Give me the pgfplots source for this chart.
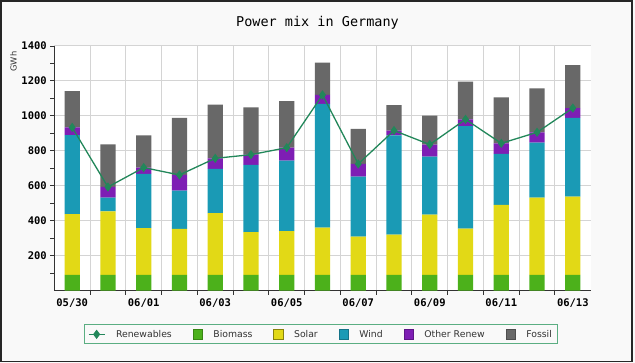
\documentclass[border=0pt]{standalone}
\usepackage{pgfplots}
\pgfplotsset{compat=1.18}
\usepackage{pgfplotstable}
\usepackage{fontspec}
\setmainfont{DejaVu Sans}
\newfontfamily\monofont{DejaVu Sans Mono}
\definecolor{bgcol}{HTML}{F9F9F9}
\definecolor{cbio}{HTML}{4CB11B}
\definecolor{csol}{HTML}{E2D916}
\definecolor{cwind}{HTML}{1A9AB5}
\definecolor{cother}{HTML}{7E1EB4}
\definecolor{cfos}{HTML}{686868}
\definecolor{cren}{HTML}{22875A}
\definecolor{legbox}{HTML}{5BAE82}
\definecolor{gridc}{HTML}{D4D4D4}
\pgfplotsset{
  sqleg/.style={legend image code/.code={\draw[line width=0.8pt,##1] (0pt,-4.6pt) rectangle (9.2pt,4.6pt);}},
  lnleg/.style={legend image code/.code={\draw[mark repeat=2,mark phase=2,##1] plot coordinates {(0pt,0pt) (8pt,0pt) (16pt,0pt)};}},
}
\pgfplotstableread{
x bio sol wind other fos ren
0 90 348 452 44 208 934
1 90 364 78 61 244 593
2 90 268 310 36 185 704
3 90 263 219 90 326 662
4 90 354 252 61 307 757
5 90 245 384 59 271 778
6 90 251 403 74 267 818
7 90 270 708 52 185 1120
8 90 219 343 73 200 725
9 90 230 569 27 145 916
10 90 345 332 69 166 836
11 90 265 587 38 216 980
12 90 400 292 61 263 843
13 90 442 315 59 252 906
14 90 448 450 57 245 1045
}\data
\begin{document}
\begin{tikzpicture}[x=1pt,y=1pt]
\useasboundingbox (0,0) rectangle (635,363);
\fill[bgcol] (0,0) rectangle (635,363);
\draw[line width=1.6pt, black!85] (0.8,362.2) rectangle (631.8,1.4);
\node[font=\monofont\fontsize{13.5}{15}\selectfont, text=black] at (317.5,340.5) {Power mix in Germany};
\node[rotate=90, font=\fontsize{8.3}{9}\selectfont, text=black!80] at (13.5,301.5) {GWh};
\begin{axis}[
  at={(54.3pt,72.4pt)}, anchor=south west,
  scale only axis, width=536.4pt, height=244.6pt,
  xmin=-0.5, xmax=14.5, ymin=0, ymax=1400,
  ybar stacked, bar width=15.3pt,
  axis background/.style={fill=white},
  axis x line*=bottom, axis y line*=left,
  axis line style={-, line width=1.2pt, black!80},
  xtick={0,2,...,14},
  xticklabels={05/30,06/01,06/03,06/05,06/07,06/09,06/11,06/13},
  minor xtick={0.5,1.5,...,13.5},
  major x tick style={draw=none},
  ytick={200,400,...,1400},
  minor ytick={100,300,...,1300},
  xminorgrids=true, ymajorgrids=true,
  grid style={gridc, line width=1pt},
  minor grid style={gridc, line width=1pt},
  tick align=outside, major tick length=4pt, minor tick length=4pt,
  tick style={black!80, line width=0.9pt},
  ticklabel style={font=\monofont\bfseries\fontsize{10.5}{12}\selectfont},
  /pgf/number format/1000 sep={},
  /pgf/number format/assume math mode=true,
  xticklabel style={yshift=-1pt},
]
\addplot[fill=cbio, draw=none] table[x=x,y=bio]{\data};
\addplot[fill=csol, draw=none] table[x=x,y=sol]{\data};
\addplot[fill=cwind, draw=none] table[x=x,y=wind]{\data};
\addplot[fill=cother, draw=none] table[x=x,y=other]{\data};
\addplot[fill=cfos, draw=none] table[x=x,y=fos]{\data};
\end{axis}
\begin{axis}[
  at={(54.3pt,72.4pt)}, anchor=south west,
  scale only axis, width=536.4pt, height=244.6pt,
  xmin=-0.5, xmax=14.5, ymin=0, ymax=1400,
  hide axis,
  legend columns=6,
  legend style={at={(0.0554,-0.1378)}, anchor=north west,
    draw=legbox, line width=0.9pt, fill=bgcol, inner sep=3.5pt,
    font=\fontsize{9.3}{11}\selectfont, text=black!80,
    nodes={inner sep=1.8pt},
    /tikz/every odd column/.append style={column sep=9pt},
    /tikz/every even column/.append style={column sep=19pt}},
]
\addplot[cren, line width=1.3pt, mark=diamond*, mark size=3.6pt, lnleg]
  table[x=x,y=ren]{\data};
\addlegendentry{Renewables}
\addlegendimage{sqleg, fill=cbio, draw=cbio!75!black}
\addlegendentry{Biomass}
\addlegendimage{sqleg, fill=csol, draw=csol!60!black}
\addlegendentry{Solar}
\addlegendimage{sqleg, fill=cwind, draw=cwind!75!black}
\addlegendentry{Wind}
\addlegendimage{sqleg, fill=cother, draw=cother!75!black}
\addlegendentry{Other Renew}
\addlegendimage{sqleg, fill=cfos, draw=cfos!75!black}
\addlegendentry{Fossil}
\end{axis}
\end{tikzpicture}
\end{document}
